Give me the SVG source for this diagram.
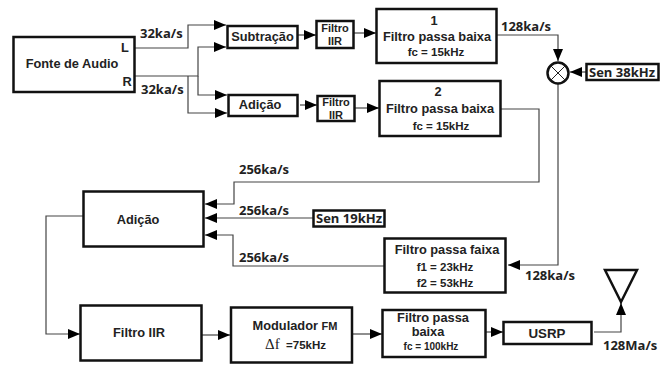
<svg xmlns="http://www.w3.org/2000/svg" width="672" height="365" viewBox="0 0 672 365">
<style>
.b{fill:#fff;stroke:#111;stroke-width:2.5}
.t{font-family:"Liberation Sans",Arial,sans-serif;font-weight:700;fill:#222;text-anchor:middle;font-size:12.8px}
.s{font-size:11px}
.x{font-size:11.500px}
.r{font-family:"Open Sans",sans-serif;font-weight:700;font-size:13px;fill:#222}
.a{fill:none;stroke:#444;stroke-width:1.2;marker-end:url(#h)}
</style>
<defs><marker id="h" viewBox="0 0 12 10" refX="12" refY="5" markerWidth="12" markerHeight="10" markerUnits="userSpaceOnUse" orient="auto"><path d="M0 0L12 5L0 10z" fill="#000"/></marker></defs>
<rect width="672" height="365" fill="#fff"/>
<g id="connectors">
<path class="a" d="M135 48H188V25H226"/>
<path class="a" d="M135 76H198V47H226"/>
<path class="a" d="M198 76V95H227"/>
<path class="a" d="M188 76V113H227"/>
<path class="a" d="M298 35H316"/>
<path class="a" d="M300 105H317"/>
<path class="a" d="M354 33H376"/>
<path class="a" d="M355 108H379"/>
<path class="a" d="M497 35H558V61"/>
<path class="a" d="M586 72H570"/>
<path class="a" d="M558 84V265H508"/>
<path class="a" d="M501 109H539V182H234V204H205"/>
<path class="a" d="M313 218H205"/>
<path class="a" d="M384 266H233V235H205"/>
<path class="a" d="M83 216H46V334H80"/>
<path class="a" d="M202 335H230"/>
<path class="a" d="M352 334H382"/>
<path class="a" d="M486 332H503"/>
<path class="a" d="M594 332H621V303"/>
</g>
<g id="fonte"><rect class="b" x="13.500" y="37" width="121" height="55"/><text class="t" x="72" y="68">Fonte de Audio</text><text class="t" x="125" y="52">L</text><text class="t" x="127" y="86">R</text></g>
<g id="subtracao"><rect class="b" x="227.500" y="26" width="70" height="22"/><text class="t" x="262.500" y="41">Subtração</text></g>
<g id="adicao1"><rect class="b" x="228.500" y="95" width="69" height="21"/><text class="t" x="260" y="109">Adição</text></g>
<g id="iir1"><rect class="b" x="316.500" y="21" width="37" height="27"/><text class="t s" x="335" y="32">Filtro</text><text class="t s" x="335" y="45">IIR</text></g>
<g id="iir2"><rect class="b" x="317.500" y="96" width="37" height="25"/><text class="t s" x="336" y="106">Filtro</text><text class="t s" x="336" y="119">IIR</text></g>
<g id="fpb1"><rect class="b" x="376.500" y="9" width="120" height="54"/><text class="t" x="434" y="25">1</text><text class="t" x="437" y="41">Filtro passa baixa</text><text class="t x" x="436" y="56">fc = 15kHz</text></g>
<g id="fpb2"><rect class="b" x="379.500" y="81" width="121" height="55"/><text class="t" x="438" y="96">2</text><text class="t" x="440" y="113">Filtro passa baixa</text><text class="t x" x="441" y="130">fc = 15kHz</text></g>
<g id="mixer"><circle cx="558" cy="73" r="10.500" fill="#fff" stroke="#111" stroke-width="2.500"/><path d="M550.500 65.500L565.500 80.500M565.500 65.500L550.500 80.500" stroke="#222" stroke-width="1" fill="none"/></g>
<g id="sen38"><rect class="b" x="586.500" y="64" width="72" height="16"/><text class="r" x="589" y="77">Sen 38kHz</text></g>
<g id="adicao2"><rect class="b" x="83.500" y="191.500" width="120" height="55"/><text class="t" x="138" y="224">Adição</text></g>
<g id="sen19"><rect class="b" x="313.500" y="210.500" width="71" height="16"/><text class="r" x="316" y="223">Sen 19kHz</text></g>
<g id="fpf"><rect class="b" x="384.500" y="238.500" width="121" height="54"/><text class="t" x="447" y="254">Filtro passa faixa</text><text class="t x" x="445" y="271">f1 = 23kHz</text><text class="t x" x="445" y="287">f2 = 53kHz</text></g>
<g id="iir3"><rect class="b" x="80.500" y="305.500" width="121" height="55"/><text class="t" x="139" y="337">Filtro IIR</text></g>
<g id="modulador"><rect class="b" x="231" y="307.500" width="121" height="55"/><text class="t" x="295" y="330">Modulador <tspan class="s">FM</tspan></text><text x="265" y="349" style="font-family:'Liberation Serif',serif;font-size:15px;fill:#222">Δf</text><text class="t x" x="306" y="349">=75kHz</text></g>
<g id="fpb3"><rect class="b" x="382.500" y="310" width="103" height="47"/><text class="t" x="433" y="322">Filtro passa</text><text class="t" x="428" y="335.500">baixa</text><text class="t" x="431" y="350" style="font-size:10px">fc = 100kHz</text></g>
<g id="usrp"><rect class="b" x="503.500" y="322" width="88" height="22"/><text class="t" x="547" y="338" style="font-size:13.300px">USRP</text></g>
<g id="antena"><path d="M605 270H637L621 302z" fill="none" stroke="#111" stroke-width="2.500"/></g>
<g id="labels">
<text class="r" x="140" y="38">32ka/s</text>
<text class="r" x="141" y="94">32ka/s</text>
<text class="r" x="501" y="31">128ka/s</text>
<text class="r" x="239" y="174">256ka/s</text>
<text class="r" x="239" y="215">256ka/s</text>
<text class="r" x="239" y="262">256ka/s</text>
<text class="r" x="525" y="280">128ka/s</text>
<text class="r" x="603" y="350">128Ma/s</text>
</g>
</svg>
